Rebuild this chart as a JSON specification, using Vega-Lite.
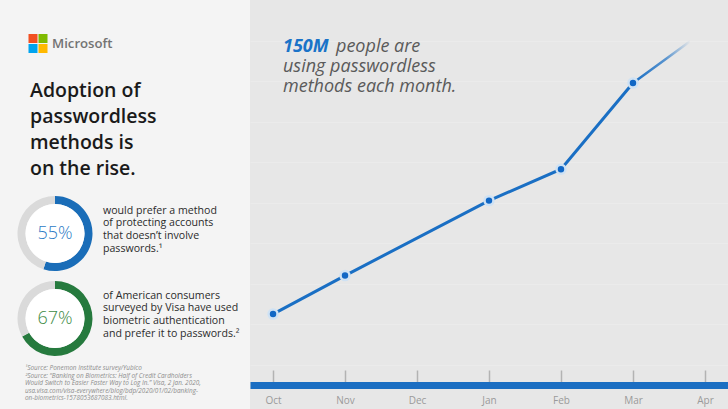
{
  "$schema": "https://vega.github.io/schema/vega-lite/v6.json",
  "background": "#e7e7e7",
  "padding": 0,
  "spacing": 0,
  "bounds": "flush",
  "config": {"view": {"stroke": null}, "font": "Open Sans"},
  "datasets": {
    "users": [
      {"month": "Oct", "users": 35},
      {"month": "Nov", "users": 54},
      {"month": "Jan", "users": 91},
      {"month": "Feb", "users": 106.5},
      {"month": "Mar", "users": 149}
    ],
    "trend": [
      {"month": "Mar", "users": 149},
      {"month": "Apr", "users": 175}
    ],
    "donut1": [
      {"part": "Prefer passwordless", "share": 55},
      {"part": "Other (survey)", "share": 45}
    ],
    "donut2": [
      {"part": "Prefer biometrics", "share": 67},
      {"part": "Other (Visa)", "share": 33}
    ]
  },
  "hconcat": [
    {
      "width": 250,
      "height": 409,
      "view": {"fill": "#f4f4f4", "stroke": null},
      "layer": [
        {"data": {"values": [{}]}, "mark": {"type": "rect", "x": 28.5, "x2": 37.5, "y": 34, "y2": 43, "color": "#f25022"}, "encoding": {}},
        {"data": {"values": [{}]}, "mark": {"type": "rect", "x": 38.5, "x2": 47.5, "y": 34, "y2": 43, "color": "#7fba00"}, "encoding": {}},
        {"data": {"values": [{}]}, "mark": {"type": "rect", "x": 28.5, "x2": 37.5, "y": 44, "y2": 53, "color": "#00a4ef"}, "encoding": {}},
        {"data": {"values": [{}]}, "mark": {"type": "rect", "x": 38.5, "x2": 47.5, "y": 44, "y2": 53, "color": "#ffb900"}, "encoding": {}},
        {"data": {"values": [{}]}, "mark": {"type": "text", "text": "Microsoft", "x": 52, "y": 43.5, "align": "left", "baseline": "middle", "fontSize": 13.2, "fontWeight": 600, "color": "#737373"}, "encoding": {}},
        {"data": {"values": [{}]}, "mark": {"type": "text", "text": ["Adoption of", "passwordless", "methods is", "on the rise."], "x": 30, "y": 97, "lineHeight": 26, "align": "left", "baseline": "alphabetic", "fontSize": 19.5, "fontWeight": 600, "color": "#1a1a1a"}, "encoding": {}},
        {
          "data": {"name": "donut1"},
          "mark": {"type": "arc", "x": 55, "y": 233.5, "radius": 37.5, "radius2": 29.5},
          "encoding": {
            "theta": {"field": "share", "type": "quantitative", "stack": true},
            "order": {"field": "share", "sort": "descending"},
            "color": {"field": "part", "type": "nominal", "legend": null,
              "scale": {"domain": ["Prefer passwordless", "Prefer biometrics", "Other (survey)", "Other (Visa)"], "range": ["#1a6db8", "#267a3e", "#dadada", "#dadada"]}}
          }
        },
        {
          "data": {"name": "donut2"},
          "mark": {"type": "arc", "x": 55, "y": 318.5, "radius": 37.5, "radius2": 29.5},
          "encoding": {
            "theta": {"field": "share", "type": "quantitative", "stack": true},
            "order": {"field": "share", "sort": "descending"},
            "color": {"field": "part", "type": "nominal", "legend": null}
          }
        },
        {"data": {"values": [{}]}, "mark": {"type": "arc", "x": 55, "y": 233.5, "radius": 29.5, "theta": 0, "theta2": 6.2832, "color": "#ffffff"}, "encoding": {}},
        {"data": {"values": [{}]}, "mark": {"type": "arc", "x": 55, "y": 318.5, "radius": 29.5, "theta": 0, "theta2": 6.2832, "color": "#ffffff"}, "encoding": {}},
        {"data": {"values": [{}]}, "mark": {"type": "text", "text": "55%", "x": 55, "y": 234, "align": "center", "baseline": "middle", "fontSize": 18, "fontWeight": 300, "color": "#2c7bc6"}, "encoding": {}},
        {"data": {"values": [{}]}, "mark": {"type": "text", "text": "67%", "x": 55, "y": 319, "align": "center", "baseline": "middle", "fontSize": 18, "fontWeight": 300, "color": "#3d8b46"}, "encoding": {}},
        {"data": {"values": [{}]}, "mark": {"type": "text", "text": ["would prefer a method", "of protecting accounts", "that doesn’t involve", "passwords.¹"], "x": 103, "y": 213.5, "lineHeight": 12.7, "align": "left", "baseline": "alphabetic", "fontSize": 10.6, "color": "#2b2b2b"}, "encoding": {}},
        {"data": {"values": [{}]}, "mark": {"type": "text", "text": ["of American consumers", "surveyed by Visa have used", "biometric authentication", "and prefer it to passwords.²"], "x": 103, "y": 298.5, "lineHeight": 12.7, "align": "left", "baseline": "alphabetic", "fontSize": 10.6, "color": "#2b2b2b"}, "encoding": {}},
        {"data": {"values": [{}]}, "mark": {"type": "text", "text": ["¹Source: Ponemon Institute survey/Yubico", "²Source: “Banking on Biometrics: Half of Credit Cardholders", "Would Switch to Easier Faster Way to Log In.” Visa, 2 Jan. 2020,", "usa.visa.com/visa-everywhere/blog/bdp/2020/01/02/banking-", "on-biometrics-1578053687083.html."], "x": 25, "y": 370, "lineHeight": 7.5, "align": "left", "baseline": "alphabetic", "fontSize": 6.4, "fontStyle": "italic", "color": "#8c8c8c"}, "encoding": {}}
      ]
    },
    {
      "width": 478,
      "height": 385,
      "view": {"fill": "#e7e7e7", "stroke": null},
      "layer": [
        {"data": {"name": "trend"},
          "mark": {"type": "line", "strokeWidth": 2.5, "strokeCap": "round",
            "color": {"gradient": "linear", "x1": 0, "y1": 0, "x2": 1, "y2": 0, "stops": [{"offset": 0, "color": "#1a6fc4"}, {"offset": 0.45, "color": "rgba(26,111,196,0.7)"}, {"offset": 0.8, "color": "rgba(26,111,196,0)"}, {"offset": 1, "color": "rgba(26,111,196,0)"}]}},
          "encoding": {
            "x": {"field": "month", "type": "ordinal",
              "scale": {"type": "point", "domain": ["Oct", "Nov", "Dec", "Jan", "Feb", "Mar", "Apr"], "padding": 0.32},
              "axis": {"title": null, "domainColor": "#1b6ec2", "domainWidth": 7, "domainCap": "butt", "tickColor": "#b3b3b3", "tickSize": -15, "tickWidth": 1.5, "labelColor": "#9a9a9a", "labelFontSize": 10, "labelPadding": 25, "labelAngle": 0}},
            "y": {"field": "users", "type": "quantitative",
              "scale": {"domain": [0, 190], "nice": false, "zero": true},
              "axis": {"title": null, "labels": false, "ticks": false, "domain": false, "grid": true, "gridColor": "#ebebeb", "gridWidth": 1, "values": [10, 20, 30, 40, 50, 60, 70, 80, 90, 100, 110, 120, 130, 140, 150, 160, 170, 180], "minExtent": 0, "maxExtent": 0}}
          }},
        {"data": {"name": "users"}, "mark": {"type": "line", "color": "#1a6fc4", "strokeWidth": 3},
          "encoding": {"x": {"field": "month", "type": "ordinal"}, "y": {"field": "users", "type": "quantitative", "scale": {"domain": [0, 190], "nice": false, "zero": true}}}},
        {"data": {"name": "users"}, "mark": {"type": "point", "filled": true, "shape": "circle", "size": 80, "fill": "#1167c5", "stroke": "#cfe2f4", "strokeWidth": 2.5, "opacity": 1},
          "encoding": {"x": {"field": "month", "type": "ordinal"}, "y": {"field": "users", "type": "quantitative", "scale": {"domain": [0, 190], "nice": false, "zero": true}}}},
        {"data": {"values": [{}]}, "mark": {"type": "text", "text": "150M", "x": 33, "y": 52, "align": "left", "baseline": "alphabetic", "fontSize": 18, "fontStyle": "italic", "fontWeight": "bold", "color": "#1a73c8"}, "encoding": {}},
        {"data": {"values": [{}]}, "mark": {"type": "text", "text": "people are", "x": 86, "y": 52, "align": "left", "baseline": "alphabetic", "fontSize": 18, "fontStyle": "italic", "color": "#5a5a5a"}, "encoding": {}},
        {"data": {"values": [{}]}, "mark": {"type": "text", "text": ["using passwordless", "methods each month."], "x": 33, "y": 72, "lineHeight": 20, "align": "left", "baseline": "alphabetic", "fontSize": 18, "fontStyle": "italic", "color": "#5a5a5a"}, "encoding": {}}
      ]
    }
  ]
}
